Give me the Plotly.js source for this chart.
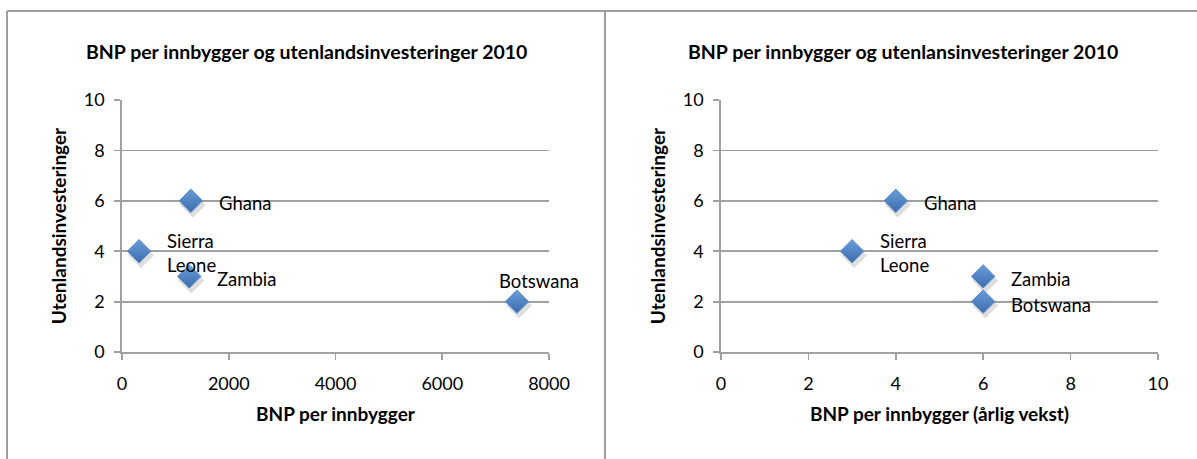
<!DOCTYPE html>
<html><head><meta charset="utf-8">
<script src="https://cdn.plot.ly/plotly-3.0.1.min.js"></script>
<style>html,body{margin:0;padding:0;background:#fff;} #chart{width:1197px;height:459px;}</style>
</head><body><div id="chart"></div>
<script>
// ---- data ----
const countries = ['Ghana', 'Sierra Leone', 'Zambia', 'Botswana'];
const labelText = ['Ghana', 'Sierra<br>Leone', 'Zambia', 'Botswana'];
const bnpPerInnbygger = [1290, 320, 1260, 7400];
const bnpVekst = [4, 3, 6, 6];
const utenlandsinvesteringer = [6, 4, 3, 2];
const xTicksLeft = [0, 2000, 4000, 6000, 8000];
const xTicksRight = [0, 2, 4, 6, 8, 10];
const yTicks = [0, 2, 4, 6, 8, 10];
const chartTitles = ['BNP per innbygger og utenlandsinvesteringer 2010', 'BNP per innbygger og utenlansinvesteringer 2010'];
const xTitles = ['BNP per innbygger', 'BNP per innbygger (årlig vekst)'];
const yTitle = 'Utenlandsinvesteringer';

// ---- styling ----
const W = 1197, H = 459;
const FONT = 'Lato, "Open Sans", sans-serif';
const GRAY = '#a0a0a0';
const px = v => v / W;
const py = v => 1 - v / H;
const yDom = [py(352), py(100)];
const leftDom = [px(122), px(549)];
const rightDom = [px(721), px(1158)];
const shX = 2, shY = 4;

// label placement (style): per point, for left and right charts
const leftPlace = [
  {xanchor: 'left', xshift: 26, yshift: -2},
  {xanchor: 'left', xshift: 26, yshift: -2},
  {xanchor: 'left', xshift: 26, yshift: -3},
  {xanchor: 'center', xshift: 22, yshift: 21}
];
const rightPlace = [
  {xanchor: 'left', xshift: 26, yshift: -2},
  {xanchor: 'left', xshift: 26, yshift: -2},
  {xanchor: 'left', xshift: 26, yshift: -3},
  {xanchor: 'left', xshift: 26, yshift: -3}
];

const markerMain = {symbol: 'diamond', size: 18, color: '#6c9ddb',
  gradient: {type: 'vertical', color: '#3b6cab'},
  line: {color: '#5a8cc9', width: 1}};
const markerShadow = {symbol: 'diamond', size: 20, color: 'rgba(0,0,0,0.13)', line: {width: 0}};

const traces = [
  // shadows (drawn first, on offset hidden axes)
  {type: 'scatter', mode: 'markers', x: bnpPerInnbygger, y: utenlandsinvesteringer, xaxis: 'x', yaxis: 'y', marker: markerShadow, hoverinfo: 'skip', showlegend: false},
  {type: 'scatter', mode: 'markers', x: bnpVekst, y: utenlandsinvesteringer, xaxis: 'x2', yaxis: 'y2', marker: markerShadow, hoverinfo: 'skip', showlegend: false},
  // visible charts
  {type: 'scatter', mode: 'markers', x: bnpPerInnbygger, y: utenlandsinvesteringer, text: countries, xaxis: 'x3', yaxis: 'y3', marker: markerMain, showlegend: false},
  {type: 'scatter', mode: 'markers', x: bnpVekst, y: utenlandsinvesteringer, text: countries, xaxis: 'x4', yaxis: 'y4', marker: markerMain, showlegend: false}
];

const hiddenAxis = (dom, range, anchor) => ({domain: dom, range: range, visible: false, anchor: anchor, fixedrange: true});
const tickFont = {family: FONT, size: 18, color: '#000'};
const titleFont = {family: FONT, size: 19, color: '#000', weight: 'bold'};

function xAxis(dom, ticks, title, anchor) {
  return {domain: dom, range: [ticks[0], ticks[ticks.length - 1]], tickvals: ticks, ticktext: ticks.map(String),
    anchor: anchor, showgrid: false, zeroline: false, showline: true, linecolor: GRAY, linewidth: 1.8,
    ticks: 'outside', ticklen: 6, tickcolor: GRAY, tickwidth: 1.8, ticklabelstandoff: 9,
    tickfont: tickFont, title: {text: title, font: titleFont, standoff: 14}, fixedrange: true};
}
function yAxis(ticks, anchor) {
  return {domain: yDom, range: [ticks[0], ticks[ticks.length - 1]], tickvals: ticks, ticktext: ticks.map(String),
    anchor: anchor, showgrid: true, gridcolor: GRAY, gridwidth: 1.8, zeroline: false, showline: true, linecolor: GRAY, linewidth: 1.8,
    ticks: 'outside', ticklen: 6, tickcolor: GRAY, tickwidth: 1.8, ticklabelstandoff: 6,
    tickfont: tickFont, title: {text: yTitle, font: titleFont, standoff: 12}, fixedrange: true};
}

const annotations = [];
[['x3', 'y3', bnpPerInnbygger, leftPlace], ['x4', 'y4', bnpVekst, rightPlace]].forEach(([xr, yr, xs, place]) => {
  xs.forEach((xv, i) => {
    const p = place[i];
    annotations.push({xref: xr, yref: yr, x: xv, y: utenlandsinvesteringer[i], text: labelText[i], showarrow: false,
      xanchor: p.xanchor, yanchor: 'middle', xshift: p.xshift, yshift: p.yshift, align: 'left',
      font: {family: FONT, size: 18.5, color: '#000'}});
  });
});
annotations.push({xref: 'paper', yref: 'paper', x: px(306), y: py(52), text: chartTitles[0], showarrow: false,
  xanchor: 'center', yanchor: 'middle', font: {family: FONT, size: 19.5, color: '#000', weight: 'bold'}});
annotations.push({xref: 'paper', yref: 'paper', x: px(903), y: py(52), text: chartTitles[1], showarrow: false,
  xanchor: 'center', yanchor: 'middle', font: {family: FONT, size: 19.5, color: '#000', weight: 'bold'}});

const frameLine = {type: 'line', xref: 'paper', yref: 'paper', line: {color: '#9e9e9e', width: 2}, layer: 'above'};
const shapes = [
  Object.assign({}, frameLine, {x0: px(7), x1: 1, y0: py(11), y1: py(11)}),
  Object.assign({}, frameLine, {x0: px(7), x1: px(7), y0: py(11), y1: 0}),
  Object.assign({}, frameLine, {x0: px(605), x1: px(605), y0: py(11), y1: 0})
];

const layout = {
  width: W, height: H, margin: {l: 0, r: 0, t: 0, b: 0}, paper_bgcolor: '#fff', plot_bgcolor: 'rgba(0,0,0,0)',
  font: {family: FONT, color: '#000'}, showlegend: false,
  xaxis: hiddenAxis([leftDom[0] + px(shX), leftDom[1] + px(shX)], [0, 8000], 'y'),
  yaxis: hiddenAxis([yDom[0] - shY / H, yDom[1] - shY / H], [0, 10], 'x'),
  xaxis2: hiddenAxis([rightDom[0] + px(shX), rightDom[1] + px(shX)], [0, 10], 'y2'),
  yaxis2: hiddenAxis([yDom[0] - shY / H, yDom[1] - shY / H], [0, 10], 'x2'),
  xaxis3: xAxis(leftDom, xTicksLeft, xTitles[0], 'y3'),
  yaxis3: yAxis(yTicks, 'x3'),
  xaxis4: xAxis(rightDom, xTicksRight, xTitles[1], 'y4'),
  yaxis4: yAxis(yTicks, 'x4'),
  annotations: annotations, shapes: shapes
};

Plotly.newPlot('chart', traces, layout, {staticPlot: true, displayModeBar: false});
</script></body></html>
